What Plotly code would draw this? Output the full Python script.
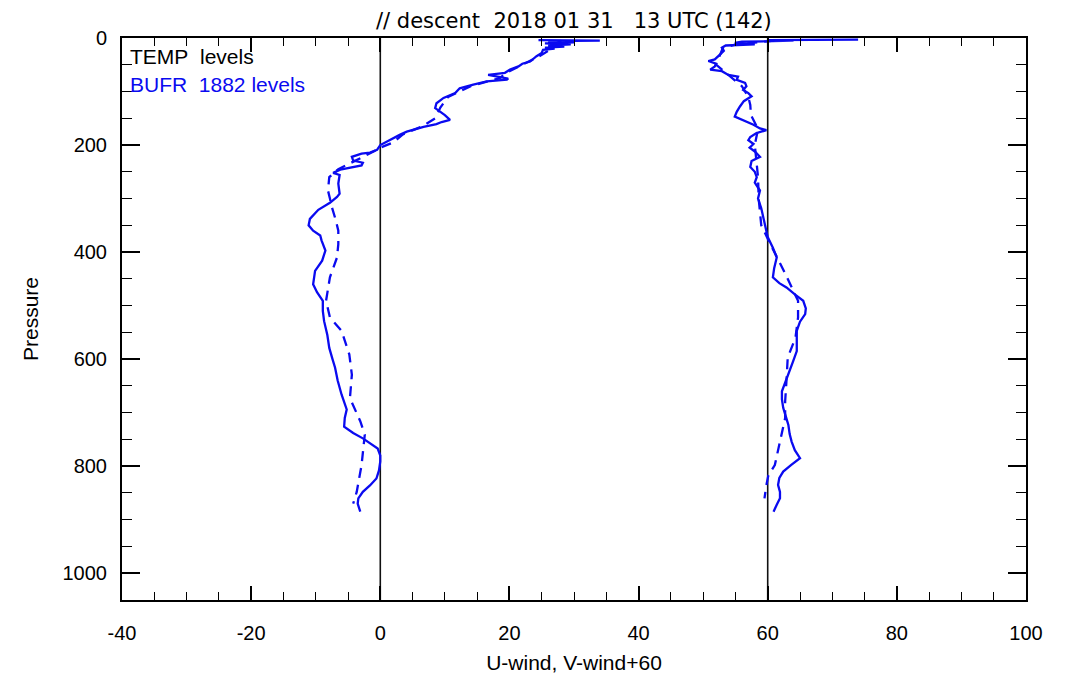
import plotly.graph_objects as go

# ---- data ----
u_bufr_p = [4, 5, 6, 8, 10, 12, 14, 16, 18, 20, 22, 28, 34, 40, 44, 48, 53, 59, 65, 69, 72, 76, 78, 81, 87, 94,
            103, 112, 122, 131, 144, 153, 157, 161, 166, 175, 181, 191, 200, 209, 214, 216, 222, 229, 233, 238,
            246, 252, 256, 272, 291, 297, 308, 321, 338, 350, 360, 369, 378, 397, 416, 435, 460, 475, 491, 510,
            529, 555, 579, 600, 616, 640, 666, 694, 710, 726, 738, 748, 758, 767, 780, 791, 808, 823, 836, 848,
            860, 870, 885]
u_bufr = [24.5, 34, 26, 30, 25.5, 29.5, 26, 28.5, 25.5, 27, 25.2, 25, 24.2, 23.6, 23.2, 22, 21.4, 20.1, 19.3,
          16.7, 18.3, 19.8, 19.6, 16.5, 14.4, 12.3, 11.6, 9.8, 8.7, 8.5, 10.0, 10.8, 9.5, 8.7, 6.7, 4.1, 3.0,
          1.5, 0.0, -0.5, -1.6, -2.9, -4.4, -4.2, -2.7, -2.9, -6.2, -7.3, -6.3, -6.5, -6.3, -6.7, -7.8, -9.6,
          -10.9, -11.1, -10.4, -9.3, -9.1, -8.5, -9.0, -10.1, -10.4, -9.8, -8.9, -8.9, -8.7, -8.2, -7.9, -7.4,
          -7.0, -6.6, -6.0, -5.2, -5.5, -5.6, -4.2, -2.7, -1.4, -0.4, 0.0, 0.0, -0.2, -0.6, -1.6, -2.7, -3.4,
          -3.5, -3.1]

u_temp_p = [5, 12, 20, 35, 50, 65, 75, 90, 110, 130, 150, 165, 180, 195, 205, 215, 230, 245, 260, 285, 300,
            316, 340, 360, 385, 410, 447, 491, 522, 547, 591, 629, 673, 716, 741, 798, 848, 870]
u_temp = [28, 27, 26.5, 24.5, 22, 19.5, 18.5, 14, 10.5, 9.3, 8.5, 6.5, 3.5, 2.0, 0.0, -1.5, -4.0, -6.5, -7.9,
          -8.1, -7.8, -7.5, -6.9, -6.5, -6.5, -6.7, -7.8, -8.4, -7.8, -6.0, -4.8, -4.4, -4.7, -3.1, -2.4, -2.9,
          -3.65, -4.2]

v_bufr_p = [3, 4, 5, 7, 9, 12, 14, 18, 24, 31, 36, 40, 43, 48, 53, 59, 62, 69, 72, 78, 84, 90, 97, 103, 109,
            118, 128, 138, 147, 155, 162, 169, 172, 178, 185, 191, 198, 205, 212, 222, 230, 241, 250, 260, 270,
            285, 300, 318, 335, 355, 372, 392, 410, 430, 447, 458, 466, 480, 491, 505, 516, 530, 547, 565, 585,
            605, 622, 640, 660, 675, 691, 707, 723, 740, 754, 770, 785, 798, 810, 822, 835, 848, 860, 872, 885]
v_bufr = [74, 60, 64, 56, 54.9, 58, 53.5, 52.9, 53.2, 52.6, 52.2, 51.8, 50.8, 52.0, 51.8, 51.1, 52.9, 53.9,
          55.4, 55.2, 56.5, 56.7, 56.2, 57.0, 57.5, 56.3, 55.7, 55.2, 54.9, 56.5, 57.8, 58.8, 59.8, 58.2, 57.3,
          57.0, 57.8, 57.2, 58.0, 58.8, 57.5, 57.3, 58.0, 58.3, 58.0, 58.8, 58.5, 59.0, 59.3, 59.7, 60.0, 60.8,
          61.4, 61.0, 60.8, 61.8, 62.9, 64.3, 65.5, 65.9, 65.8, 65.0, 64.5, 64.5, 64.5, 63.9, 63.4, 62.8, 62.2,
          62.2, 62.4, 62.8, 63.2, 63.4, 63.7, 64.2, 65.0, 63.6, 62.4, 61.8, 61.6, 61.9, 61.9, 61.4, 60.9]

v_temp_p = [5, 12, 20, 35, 50, 70, 90, 110, 125, 144, 170, 200, 230, 260, 300, 335, 350, 380, 410, 440, 491,
            522, 560, 597, 641, 679, 710, 767, 798, 817, 835, 860]
v_temp = [61, 55, 53, 52.5, 52, 54, 56, 57, 57.3, 57.4, 58.5, 58.0, 58.3, 58.5, 58.6, 58.8, 59.0, 60.2, 61.5,
          62.7, 64.7, 64.7, 64.3, 63.1, 62.9, 62.7, 62.7, 61.6, 61.1, 60.1, 59.8, 59.5]

x_ticks = [-40, -20, 0, 20, 40, 60, 80, 100]
x_ticktext = ["-40", "-20", "0", "20", "40", "60", "80", "100"]
y_ticks = [0, 200, 400, 600, 800, 1000]
y_ticktext = ["0", "200", "400", "600", "800", "1000"]
ref_lines = [0, 60]

title_text = "//\u00a0descent\u00a0\u00a02018\u00a001\u00a031\u00a0\u00a0\u00a013\u00a0UTC\u00a0(142)"
legend_temp = "TEMP\u00a0\u00a0levels"
legend_bufr = "BUFR\u00a0\u00a01882\u00a0levels"

FONT = "Liberation Sans, Arial, Helvetica, sans-serif"
TITLE_FONT = "DejaVu Sans, Liberation Sans, Arial, sans-serif"
BLUE = "#0a0af0"

fig = go.Figure()
fig.add_trace(go.Scatter(x=u_bufr, y=u_bufr_p, mode="lines",
                         line=dict(color=BLUE, width=2.3), showlegend=False))
fig.add_trace(go.Scatter(x=u_temp, y=u_temp_p, mode="lines",
                         line=dict(color=BLUE, width=2.3, dash="10px,7px"), showlegend=False))
fig.add_trace(go.Scatter(x=v_bufr, y=v_bufr_p, mode="lines",
                         line=dict(color=BLUE, width=2.3), showlegend=False))
fig.add_trace(go.Scatter(x=v_temp, y=v_temp_p, mode="lines",
                         line=dict(color=BLUE, width=2.3, dash="10px,7px"), showlegend=False))

for xv in ref_lines:
    fig.add_shape(type="line", xref="x", yref="paper", x0=xv, x1=xv, y0=0, y1=1,
                  line=dict(color="#111111", width=1.6), layer="below")

fig.add_annotation(text=title_text, xref="paper", yref="paper", x=0.5, y=1, yshift=17,
                   showarrow=False, font=dict(family=TITLE_FONT, size=21, color="black"),
                   xanchor="center", yanchor="middle")
fig.add_annotation(text=legend_temp, xref="paper", yref="paper", x=0, y=1, xshift=6, yshift=-18,
                   showarrow=False, font=dict(family=FONT, size=21, color="black"),
                   xanchor="left", yanchor="middle")
fig.add_annotation(text=legend_bufr, xref="paper", yref="paper", x=0, y=1, xshift=6, yshift=-46,
                   showarrow=False, font=dict(family=FONT, size=21, color=BLUE),
                   xanchor="left", yanchor="middle")

# the page adds an 8px body margin, so margins are set to keep the plot box at 122..1026 x 38..600
fig.update_layout(
    width=1071, height=680,
    margin=dict(l=114, r=53, t=30, b=88),
    paper_bgcolor="white", plot_bgcolor="white",
    font=dict(family=FONT, color="black"),
)
fig.update_xaxes(
    range=[-40, 100], tickvals=x_ticks, ticktext=x_ticktext, ticks="inside", ticklen=14, tickwidth=1.5,
    tickcolor="black", showline=True, linecolor="black", linewidth=2, mirror="allticks", showgrid=False,
    zeroline=False, tickfont=dict(family=FONT, size=20, color="black"), ticklabelstandoff=14,
    minor=dict(ticks="inside", dtick=5, ticklen=8, tickwidth=1.3, tickcolor="black", showgrid=False),
    title=dict(text="U-wind, V-wind+60", font=dict(family=FONT, size=21, color="black"), standoff=12),
)
fig.update_yaxes(
    range=[1050, 0], tickvals=y_ticks, ticktext=y_ticktext, ticks="inside", ticklen=18, tickwidth=1.5,
    tickcolor="black", showline=True, linecolor="black", linewidth=2, mirror="allticks", showgrid=False,
    zeroline=False, tickfont=dict(family=FONT, size=20, color="black"), ticklabelstandoff=9,
    minor=dict(ticks="inside", dtick=50, ticklen=10, tickwidth=1.3, tickcolor="black", showgrid=False),
    title=dict(text="Pressure", font=dict(family=FONT, size=21, color="black"), standoff=18),
)

fig.write_html("out.html")
